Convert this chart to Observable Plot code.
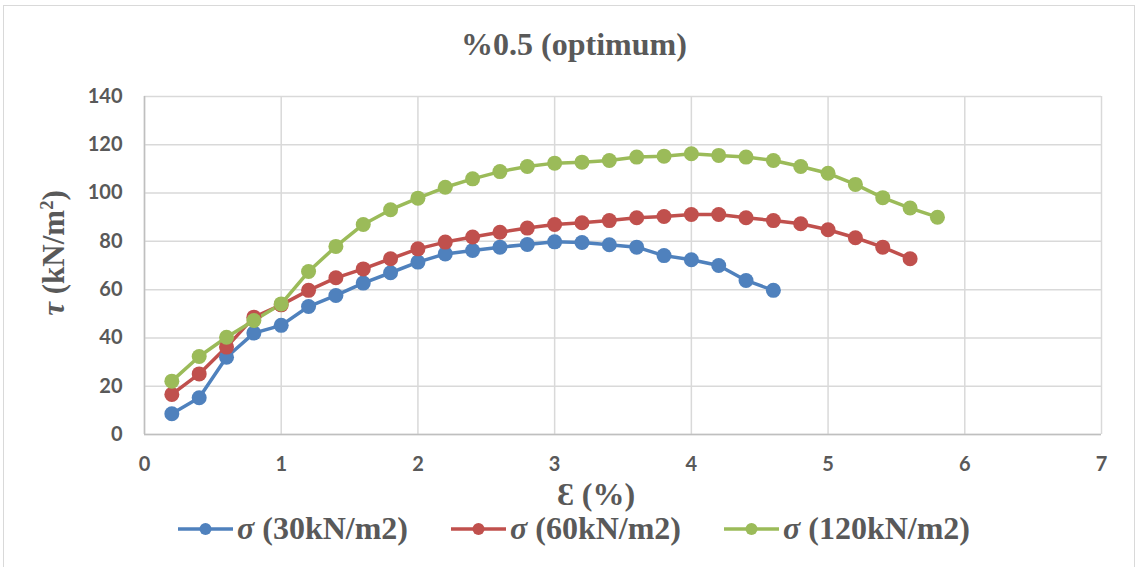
<!DOCTYPE html>
<html>
<head>
<meta charset="utf-8">
<script src="https://cdn.jsdelivr.net/npm/d3@7"></script>
<script src="https://cdn.jsdelivr.net/npm/@observablehq/plot@0.6"></script>
<style>
  html, body { margin: 0; padding: 0; background: #fff; }
  #wrap { position: relative; width: 1140px; height: 567px; overflow: hidden; background: #fff; }
  #frame { position: absolute; left: 3px; top: 5px; width: 1132px; height: 600px; border: 1.5px solid #d9d9d9; box-sizing: border-box; }
  .serif { font-family: 'Liberation Serif', 'Times New Roman', Tinos, 'DejaVu Serif', serif; font-weight: bold; color: #595959; }
  #title { position: absolute; left: 4px; width: 1140px; top: 26px; text-align: center; font-size: 32px; }
  #chart { position: absolute; left: 0; top: 80px; }
  #ylabel { position: absolute; left: 54px; top: 253px; transform: translate(-50%, -50%) rotate(-90deg); white-space: nowrap; font-size: 31px; }
  #xlabel { position: absolute; left: 0; width: 1192px; top: 476px; text-align: center; font-size: 32px; }
  #legend { position: absolute; left: 0; width: 1148px; top: 510px; display: flex; justify-content: center; gap: 43px; font-size: 32px; }
  .item { display: flex; align-items: center; gap: 4px; }
  .it { font-style: italic; }
  sup { font-size: 0.6em; }
</style>
</head>
<body>
<div id="wrap">
  <div id="frame"></div>
  <div id="title" class="serif">%0.5 (optimum)</div>
  <div id="chart"></div>
  <div id="ylabel" class="serif"><span class="it">τ</span> (kN/m<sup>2</sup>)</div>
  <div id="xlabel" class="serif">Ɛ (%)</div>
  <div id="legend" class="serif"></div>
</div>
<script>
const seriesNames = ["σ (30kN/m2)", "σ (60kN/m2)", "σ (120kN/m2)"];
const seriesColors = ["#4f81bd", "#c0504d", "#9bbb59"];

const strain30 = [0.2,0.4,0.6,0.8,1.0,1.2,1.4,1.6,1.8,2.0,2.2,2.4,2.6,2.8,3.0,3.2,3.4,3.6,3.8,4.0,4.2,4.4,4.6];
const stress30 = [8.6,15.2,32.0,42.0,45.2,53.0,57.6,62.7,67.0,71.4,74.8,76.2,77.6,78.7,79.8,79.5,78.6,77.6,74.1,72.4,70.0,63.8,59.7];

const strain60 = [0.2,0.4,0.6,0.8,1.0,1.2,1.4,1.6,1.8,2.0,2.2,2.4,2.6,2.8,3.0,3.2,3.4,3.6,3.8,4.0,4.2,4.4,4.6,4.8,5.0,5.2,5.4,5.6];
const stress60 = [16.6,25.1,36.2,48.6,53.7,59.7,64.9,68.6,72.8,76.9,79.7,81.8,83.8,85.5,87.0,87.7,88.6,89.8,90.3,91.1,91.1,89.8,88.6,87.3,84.8,81.5,77.6,72.8];

const strain120 = [0.2,0.4,0.6,0.8,1.0,1.2,1.4,1.6,1.8,2.0,2.2,2.4,2.6,2.8,3.0,3.2,3.4,3.6,3.8,4.0,4.2,4.4,4.6,4.8,5.0,5.2,5.4,5.6,5.8];
const stress120 = [22.1,32.3,40.3,47.2,54.1,67.5,77.9,87.0,93.1,97.9,102.4,105.9,108.9,111.0,112.4,112.8,113.5,114.9,115.3,116.3,115.6,114.9,113.5,111.0,108.2,103.6,98.1,93.8,90.0];

const xTicks = [0,1,2,3,4,5,6,7];
const yTicks = [0,20,40,60,80,100,120,140];

const data = [
  ...strain30.map((x, i) => ({series: seriesNames[0], x, y: stress30[i]})),
  ...strain60.map((x, i) => ({series: seriesNames[1], x, y: stress60[i]})),
  ...strain120.map((x, i) => ({series: seriesNames[2], x, y: stress120[i]}))
];

const chart = Plot.plot({
  width: 1140,
  height: 420,
  marginLeft: 144,
  marginRight: 39,
  marginTop: 16,
  marginBottom: 66,
  style: { fontFamily: "Lato, 'Open Sans', sans-serif", fontSize: "20px", fontWeight: "bold", color: "#595959", background: "transparent", overflow: "visible" },
  x: { domain: [0, 7], label: null },
  y: { domain: [0, 140], label: null },
  color: { domain: seriesNames, range: seriesColors },
  marks: [
    Plot.gridX(xTicks, { stroke: "#d9d9d9", strokeOpacity: 1, strokeWidth: 1.5 }),
    Plot.gridY(yTicks, { stroke: "#d9d9d9", strokeOpacity: 1, strokeWidth: 1.5 }),
    Plot.ruleY([0], { stroke: "#bfbfbf", strokeWidth: 1.5 }),
    Plot.ruleX([0], { stroke: "#bfbfbf", strokeWidth: 1.5 }),
    Plot.line(data, { x: "x", y: "y", z: "series", stroke: "series", strokeWidth: 3.5 }),
    Plot.dot(data, { x: "x", y: "y", fill: "series", r: 7.5 }),
    Plot.axisX(xTicks, { tickSize: 0, tickPadding: 22, fill: "#595959", tickFormat: d3.format("d") }),
    Plot.axisY(yTicks, { tickSize: 0, tickPadding: 22, fill: "#595959", tickFormat: d3.format("d") })
  ]
});
document.getElementById("chart").appendChild(chart);

const legend = document.getElementById("legend");
seriesNames.forEach((name, i) => {
  const item = document.createElement("div");
  item.className = "item";
  const c = seriesColors[i];
  item.innerHTML = `<svg width="55" height="20"><line x1="0" y1="10" x2="55" y2="10" stroke="${c}" stroke-width="3.5"/><circle cx="27.5" cy="10" r="6" fill="${c}"/></svg><span><span class="it">${name.slice(0, 1)}</span>${name.slice(1)}</span>`;
  legend.appendChild(item);
});
</script>
</body>
</html>
